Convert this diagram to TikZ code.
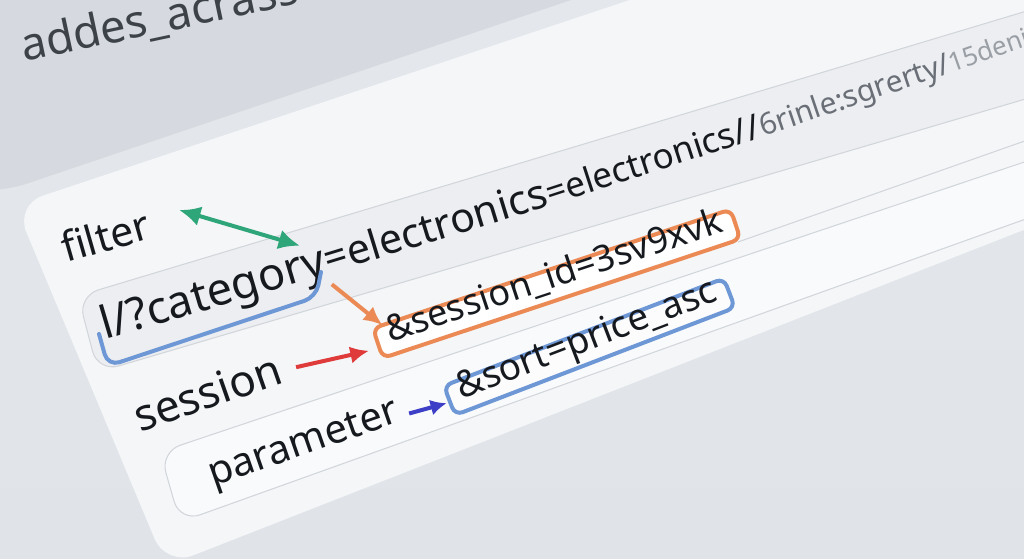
\documentclass[tikz,border=0pt]{standalone}
\usepackage{fontspec}
\setmainfont{Noto Sans}
\usetikzlibrary{arrows.meta,calc}

\definecolor{bgtop}{HTML}{E4E7EB}
\definecolor{bgbottom}{HTML}{E0E4E9}
\definecolor{topgrey}{HTML}{D6DAE0}
\definecolor{panelwhite}{HTML}{F4F6F8}
\definecolor{pillgrey}{HTML}{ECEEF1}
\definecolor{pilledge}{HTML}{D2D6DB}
\definecolor{inkblack}{HTML}{16191E}
\definecolor{inkgrey}{HTML}{3D4249}
\definecolor{fadegrey}{HTML}{6A6F77}
\definecolor{fadegreyb}{HTML}{9A9FA6}
\definecolor{tagorange}{HTML}{EC8A55}
\definecolor{tagblue}{HTML}{6E97D6}
\definecolor{arrowgreen}{HTML}{2FA57A}
\definecolor{arrowred}{HTML}{E03B3B}
\definecolor{arrowindigo}{HTML}{3D3FC6}

\newcommand{\fsz}[1]{\fontsize{#1}{#1}\selectfont}

\tikzset{
  urltext/.style={anchor=base west, inner sep=0pt, text=inkblack},
  tagbox/.style={anchor=base west, line width=3pt, rounded corners=6pt,
    inner xsep=9pt, inner ysep=6.75pt, text height=0.75em, text depth=0.25em,
    text=inkblack},
  pointer/.style={line width=3pt, -{Latex[length=14pt,width=13pt]}},
}

\begin{document}
\begin{tikzpicture}[x=0.75pt,y=-0.75pt]
                \useasboundingbox (0,0) rectangle (1024,559);
                \clip (0,0) rectangle (1024,559);
                
                % Drawing background
                \shade[top color=bgtop, bottom color=bgbottom] (0,0) rectangle (1024,559);%
                
                % Drawing upper panel
                \fill[topgrey, rounded corners=14pt] (-30,-30) -- (-30,190) -- (8,190) -- (660,-30) -- cycle;%
                \node[urltext, rotate=12, text=inkgrey, font=\fsz{34}] (head) at (24,62) {addes\_acrass};%
                
                % Drawing white panel
                \fill[panelwhite, rounded corners=22pt] (720,-30) -- (15,205) -- (166,566) -- (1090,204) -- (1090,-30) -- cycle;%
                
                % Drawing url pill
                \filldraw[fill=pillgrey, draw=pilledge, line width=0.8pt, rounded corners=16pt]
                  (1090,-8) -- (78,296) -- (98,372) -- (1090,80);%
                
                % Drawing session row line
                \draw[pilledge, line width=0.8pt] (738,242) -- (1090,118);%
                
                % Drawing parameter pill
                \filldraw[fill=panelwhite!60!white, draw=pilledge, line width=0.8pt, rounded corners=16pt]
                  (1090,140) -- (160,452) -- (180,522) -- (1090,196);%
                
                % Drawing url text
                \node[urltext, rotate=16.5, font=\fsz{33.75}] (cat) at (105,340) {l/?category};%
                \node[urltext, rotate=17, font=\fsz{30.75}] (elec) at (cat.base east) {=electronics};%
                \node[urltext, rotate=18, font=\fsz{26.25}] (elecb) at (elec.base east) {=electronics//};%
                \node[urltext, rotate=18.7, text=fadegrey, font=\fsz{22.5}] (junk) at (elecb.base east) {6rinle:sgrerty/};%
                \node[urltext, rotate=19.5, text=fadegreyb, font=\fsz{19.5}] (junkb) at (junk.base east) {15denie};%
                
                % Drawing tagged parameters
                \node[tagbox, rotate=18.4, draw=tagorange, fill=white, font=\fsz{27}] (sess) at (377,347) {\&session\_id=3sv9xvk};%
                \node[tagbox, rotate=21, draw=tagblue, fill=white!70!panelwhite, font=\fsz{27.75}] (sort) at (448.8,404.3) {\&sort=price\_asc};%
                
                % Drawing labels
                \node[urltext, rotate=16, font=\fsz{30.75}] (filter) at (66,263) {filter};%
                \node[urltext, rotate=19.3, font=\fsz{33}] (sesslabel) at (140,433) {session};%
                \node[urltext, rotate=19.2, font=\fsz{30}] (param) at (213,487) {parameter};%
                
                % Drawing bracket under category
                \draw[tagblue, line width=3pt, rounded corners=9pt, line cap=round]
                  (99,334) -- (108,366) -- (316,297) -- (321,272);%
                
                % Drawing arrows
                \draw[arrowgreen, line width=3pt, {Latex[length=16pt,width=15pt]}-{Latex[length=16pt,width=15pt]}]
                  ([shift={(26,-28)}]filter.base east) -- ([shift={(-19,5)}]cat.north east);%
                \draw[pointer, tagorange] (cat.south east) -- ([shift={(12,-2)}]sess.north west);%
                \draw[pointer, arrowred] ([shift={(11,-15)}]sesslabel.base east) -- ([shift={(-7,7)}]sess.west);%
                \draw[pointer, arrowindigo, -{Latex[length=12pt,width=12pt]}] ([shift={(8,-8)}]param.base east) -- ([shift={(-1,2)}]sort.west);%
\end{tikzpicture}
\end{document}
